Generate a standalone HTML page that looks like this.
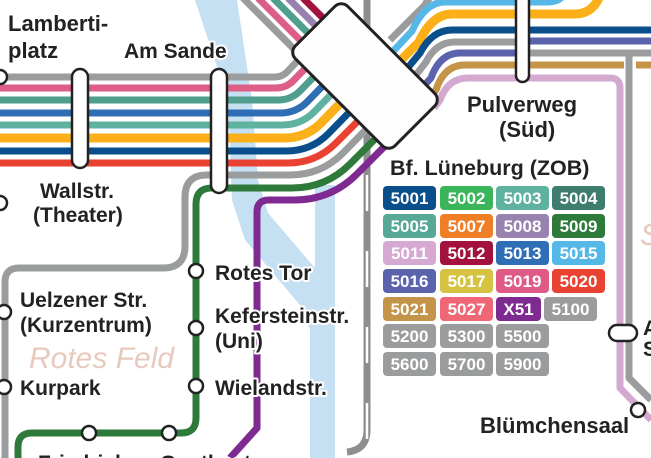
<!DOCTYPE html>
<html><head><meta charset="utf-8"><style>
html,body{margin:0;padding:0;background:#fff;}
svg{display:block;}
.t{font-family:"Liberation Sans",sans-serif;font-weight:bold;font-size:21px;fill:#222;stroke:#fff;stroke-width:4;paint-order:stroke;stroke-linejoin:round;}
.b text{font-family:"Liberation Sans",sans-serif;font-weight:bold;font-size:17px;fill:#fff;text-anchor:middle;}
</style></head><body>
<svg width="651" height="458" viewBox="0 0 651 458" xmlns="http://www.w3.org/2000/svg">
<path d="M195 0 L228 100 L232 200 L245 240 L300 305 L310 330 L310 458 L335 458 L335 185 L315 185 L315 268 L268 213 L258 180 L252 100 L237 0 Z" fill="#c5dff3"/>
<path d="M367 0 V430 Q367 450 347 452" fill="none" stroke="#8c8e90" stroke-width="7"/>
<path d="M367 175 V445" fill="none" stroke="#fff" stroke-width="2.5" stroke-dasharray="36 40"/>

<g fill="none" stroke-width="7" stroke-linejoin="round" stroke-linecap="butt">
<path d="M243 -2 L343 98" stroke="#9a9c9e"/>
<path d="M258 -2 L350 90" stroke="#dd5e86"/>
<path d="M273 -2 L360 85" stroke="#4f9e8e"/>
<path d="M288 -2 L370 80" stroke="#9882b0"/>
<path d="M303 -2 L380 75" stroke="#a3123e"/>
<path d="M0 77 H275 Q282 77 287 72 L324 33" stroke="#9a9c9e"/>
<path d="M0 88 H276 Q286 88 293 81 L332 41" stroke="#dd5e86"/>
<path d="M0 100 H278 Q291 100 300 91 L341 49" stroke="#4f9e8e"/>
<path d="M0 113 H280 Q296 113 307 102 L350 58" stroke="#2f6db5"/>
<path d="M0 125 H282 Q301 125 314 112 L358 67" stroke="#5fb1a0"/>
<path d="M0 138 H284 Q306 138 321 123 L367 76" stroke="#fbb01a" stroke-width="9"/>
<path d="M0 151 H286 Q311 151 328 134 L376 85" stroke="#0a4f8c"/>
<path d="M0 163 H288 Q316 163 336 143 L385 94" stroke="#ea4232"/>
<path d="M5 458 V282 Q5 268 19 268 H163 Q185 268 185 246 V197 Q185 175 207 175 H290 Q321 175 343 153 L393 102" stroke="#9a9c9e"/>
<path d="M18 458 V447 Q18 433 32 433 H181 Q196 433 196 418 V204 Q196 188 212 188 H292 Q326 188 350 164 L402 112" stroke="#2e7a3a"/>
<path d="M230 458 L257 428 V212 Q257 200 269 200 H294 Q331 200 357 174 L411 120" stroke="#7f2a90"/>
<path d="M390 40 L425 5 Q432 -10 450 -10 H651" stroke="#9a9c9e"/>
<path d="M385 60 L412 31 Q425 2 445 2 H548 Q562 2 566 -10" stroke="#55b8e6"/>
<path d="M393 68 L419 42 Q432 14 452 14 H575 Q595 14 602 -10" stroke="#fbb01a" stroke-width="9"/>
<path d="M401 76 L420 53 Q432 30 452 30 H651" stroke="#0a4f8c"/>
<path d="M409 84 L426 62 Q436 42 455 42 H522" stroke="#9a9c9e"/>
<path d="M418 92 L431 78 Q440 53 460 53 H522" stroke="#5b63ad"/>
<path d="M522 41 H651" stroke="#5b63ad"/>
<path d="M522 53 H651" stroke="#9a9c9e"/>
<path d="M426 100 L436 90 Q444 65 465 65 H624 M636 65 H651" stroke="#c49548"/>
<path d="M434 108 L440 100 Q448 78 468 78 H610 Q620 78 620 88 V388 L651 420" stroke="#d4a9d0"/>
<path d="M629 53 V378 L651 400" stroke="#9a9c9e"/>
</g>
<rect x="294.5" y="39" width="141" height="74" rx="9" transform="rotate(45 365 76)" fill="#fdfdfd" stroke="#222" stroke-width="3"/>
<g fill="#fff" stroke="#222" stroke-width="2.5">
<rect x="72" y="69" width="16" height="99" rx="8"/>
<rect x="211" y="69" width="16" height="124" rx="8"/>
<rect x="516" y="-12" width="13" height="94" rx="6.5"/>
<rect x="609" y="325" width="28" height="16" rx="8"/>
<circle cx="0" cy="77" r="7"/>
<circle cx="0" cy="203" r="7"/>
<circle cx="196" cy="271" r="7"/>
<circle cx="196" cy="328" r="7"/>
<circle cx="196" cy="386" r="7"/>
<circle cx="4" cy="312" r="7"/>
<circle cx="4" cy="387" r="7"/>
<circle cx="89" cy="433" r="7"/>
<circle cx="169" cy="433" r="7"/>
<circle cx="638" cy="410" r="7"/>
</g>
<text x="29" y="368" font-family="Liberation Sans,sans-serif" font-style="italic" font-size="30" fill="#e8c9bd">Rotes Feld</text>
<text x="640" y="245" font-family="Liberation Sans,sans-serif" font-style="italic" font-size="31" fill="#e8c9bd">S</text>
<text class="t" x="8" y="31" style="font-size:22px">Lamberti-</text>
<text class="t" x="8" y="58" style="font-size:22px">platz</text>
<text class="t" x="124" y="58">Am Sande</text>
<text class="t" x="40" y="198">Wallstr.</text>
<text class="t" x="33" y="222">(Theater)</text>
<text class="t" x="215" y="280">Rotes Tor</text>
<text class="t" x="20" y="307">Uelzener Str.</text>
<text class="t" x="20" y="332">(Kurzentrum)</text>
<text class="t" x="215" y="323">Kefersteinstr.</text>
<text class="t" x="215" y="348">(Uni)</text>
<text class="t" x="20" y="395">Kurpark</text>
<text class="t" x="215" y="395">Wielandstr.</text>
<text class="t" x="38" y="470">Friedrich</text>
<text class="t" x="160" y="470">Goethestr.</text>
<text class="t" x="467" y="112" style="font-size:22px">Pulverweg</text>
<text class="t" x="499" y="137" style="font-size:22px">(Süd)</text>
<text class="t" x="390" y="175" style="font-size:21.5px">Bf. Lüneburg (ZOB)</text>
<text class="t" x="480" y="433" style="font-size:22px">Blümchensaal</text>
<text class="t" x="643" y="335">A</text>
<text class="t" x="643" y="356">S</text>
<g class="b">
<rect x="383" y="186" width="53" height="24" rx="4" fill="#0a4f8c"/><text x="409.5" y="204">5001</text>
<rect x="440" y="186" width="53" height="24" rx="4" fill="#3bb55a"/><text x="466.5" y="204">5002</text>
<rect x="496" y="186" width="53" height="24" rx="4" fill="#5fb1a0"/><text x="522.5" y="204">5003</text>
<rect x="552" y="186" width="53" height="24" rx="4" fill="#3e7c6e"/><text x="578.5" y="204">5004</text>
<rect x="383" y="214" width="53" height="24" rx="4" fill="#58a898"/><text x="409.5" y="232">5005</text>
<rect x="440" y="214" width="53" height="24" rx="4" fill="#f07e26"/><text x="466.5" y="232">5007</text>
<rect x="496" y="214" width="53" height="24" rx="4" fill="#9882b0"/><text x="522.5" y="232">5008</text>
<rect x="552" y="214" width="53" height="24" rx="4" fill="#2e7a3a"/><text x="578.5" y="232">5009</text>
<rect x="383" y="241" width="53" height="24" rx="4" fill="#d6a9d3"/><text x="409.5" y="259">5011</text>
<rect x="440" y="241" width="53" height="24" rx="4" fill="#a3123e"/><text x="466.5" y="259">5012</text>
<rect x="496" y="241" width="53" height="24" rx="4" fill="#2f6db5"/><text x="522.5" y="259">5013</text>
<rect x="552" y="241" width="53" height="24" rx="4" fill="#55b8e6"/><text x="578.5" y="259">5015</text>
<rect x="383" y="269" width="53" height="24" rx="4" fill="#5b63ad"/><text x="409.5" y="287">5016</text>
<rect x="440" y="269" width="53" height="24" rx="4" fill="#d5c341"/><text x="466.5" y="287">5017</text>
<rect x="496" y="269" width="53" height="24" rx="4" fill="#df5b86"/><text x="522.5" y="287">5019</text>
<rect x="552" y="269" width="53" height="24" rx="4" fill="#ea4232"/><text x="578.5" y="287">5020</text>
<rect x="383" y="297" width="53" height="24" rx="4" fill="#c49548"/><text x="409.5" y="315">5021</text>
<rect x="440" y="297" width="53" height="24" rx="4" fill="#ef6674"/><text x="466.5" y="315">5027</text>
<rect x="496" y="297" width="45" height="24" rx="4" fill="#7f2a90"/><text x="518.5" y="315">X51</text>
<rect x="544" y="297" width="53" height="24" rx="4" fill="#9a9c9e"/><text x="570.5" y="315">5100</text>
<rect x="383" y="324" width="53" height="24" rx="4" fill="#9a9c9e"/><text x="409.5" y="342">5200</text>
<rect x="440" y="324" width="53" height="24" rx="4" fill="#9a9c9e"/><text x="466.5" y="342">5300</text>
<rect x="496" y="324" width="53" height="24" rx="4" fill="#9a9c9e"/><text x="522.5" y="342">5500</text>
<rect x="383" y="352" width="53" height="24" rx="4" fill="#9a9c9e"/><text x="409.5" y="370">5600</text>
<rect x="440" y="352" width="53" height="24" rx="4" fill="#9a9c9e"/><text x="466.5" y="370">5700</text>
<rect x="496" y="352" width="53" height="24" rx="4" fill="#9a9c9e"/><text x="522.5" y="370">5900</text>
</g>
</svg>
</body></html>
